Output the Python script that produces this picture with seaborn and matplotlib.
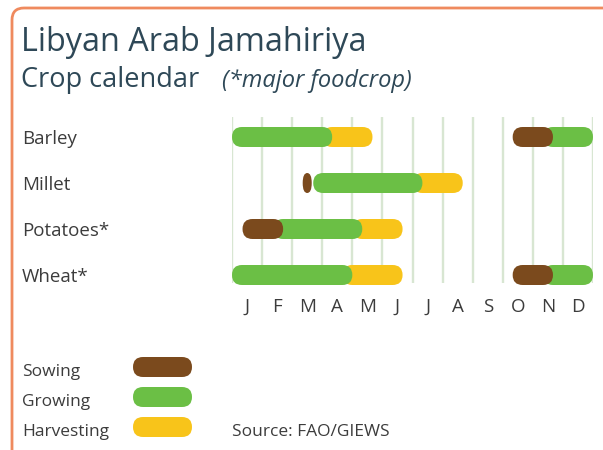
import numpy as np
import pandas as pd
import seaborn as sns
import matplotlib.pyplot as plt
from matplotlib.patches import FancyBboxPatch

# Data: crop periods in months counted from 1 January
crops = ['Barley', 'Millet', 'Potatoes*', 'Wheat*']
months = ['J', 'F', 'M', 'A', 'M', 'J', 'J', 'A', 'S', 'O', 'N', 'D']
stages = ['Sowing', 'Growing', 'Harvesting']

sowing = [('Barley', 9.33, 10.67), ('Millet', 2.35, 2.65),
          ('Potatoes*', 0.35, 1.7), ('Wheat*', 9.33, 10.67)]
growing = [('Barley', 0, 3.33), ('Barley', 10.67, 12), ('Millet', 2.7, 6.33),
           ('Potatoes*', 1.7, 4.33), ('Wheat*', 0, 4.0), ('Wheat*', 10.67, 12)]
harvesting = [('Barley', 3.33, 4.67), ('Millet', 6.33, 7.67),
              ('Potatoes*', 4.33, 5.67), ('Wheat*', 4.0, 5.67)]

colors = {'Sowing': '#7b4a1d', 'Growing': '#6bbf45', 'Harvesting': '#f8c41a'}
zorders = {'Sowing': 5, 'Growing': 4, 'Harvesting': 3}

rows = []
for stage, segs in zip(stages, [sowing, growing, harvesting]):
    for crop, start, end in segs:
        rows.append({'crop': crop, 'stage': stage, 'start': start, 'end': end})
df = pd.DataFrame(rows)

sns.set_style('white')
plt.rcParams['font.family'] = ['Open Sans', 'DejaVu Sans']

W, H = 603, 450
fig = plt.figure(figsize=(W / 100, H / 100), dpi=100)

# background layer in pixel units (frame, titles, legend)
bg = fig.add_axes([0, 0, 1, 1])
bg.set_xlim(0, W)
bg.set_ylim(H, 0)
bg.axis('off')
bg.add_patch(FancyBboxPatch((12, 8), 800, 800, boxstyle='round,pad=0,rounding_size=12',
                            fc='white', ec='#ef8a5e', lw=2.0))

title_c = '#2e4857'
bg.text(21, 51, 'Libyan Arab Jamahiriya', fontsize=23.3, color=title_c, va='baseline')
bg.text(21, 87, 'Crop calendar', fontsize=19.5, color=title_c, va='baseline')
bg.text(222, 87, '(*major foodcrop)', fontsize=17, style='italic', color=title_c, va='baseline')

# calendar axes
x0, x1, y0, y1 = 232, 593, 117, 283
row_px = 46
ax = fig.add_axes([x0 / W, 1 - y1 / H, (x1 - x0) / W, (y1 - y0) / H])
ax.set_xlim(0, 12)
ax.set_ylim(3 + 8 / row_px, -20 / row_px)
ax.patch.set_alpha(0)
sns.despine(ax=ax, left=True, bottom=True)

for m in range(13):
    ax.axvline(m, color='#d8e6d2', lw=1.7, zorder=1)

rx = 10 / ((x1 - x0) / 12)   # bar end radius in months
hh = 10 / row_px             # half bar height in rows
for _, s in df.iterrows():
    yi = crops.index(s['crop'])
    start, width = s['start'], s['end'] - s['start']
    joined = ((df['crop'] == s['crop']) & (df['end'] == s['start'])).any()
    if joined:
        start -= rx
        width += rx
    rs = min(rx, width / 2)
    ax.add_patch(FancyBboxPatch((start, yi - hh), width, 2 * hh,
                                boxstyle=f'round,pad=0,rounding_size={rs}',
                                mutation_aspect=hh / rs, fc=colors[s['stage']],
                                ec='none', zorder=zorders[s['stage']], clip_on=False))

ax.set_xticks(np.arange(12) + 0.5, months)
ax.set_yticks(range(len(crops)), crops)
for lbl in ax.get_yticklabels():
    lbl.set_ha('left')
ax.tick_params(axis='x', length=0, pad=11, labelsize=13.5, labelcolor='#3c3c3c')
ax.tick_params(axis='y', length=0, pad=(x0 - 22) * 0.72, labelsize=13.5, labelcolor='#3c3c3c')

# legend
for i, stage in enumerate(stages):
    yc = 367 + 30 * i
    bg.add_patch(FancyBboxPatch((133, yc - 10), 59, 20, boxstyle='round,pad=0,rounding_size=10',
                                fc=colors[stage], ec='none'))
    bg.text(22, yc + 9, stage, fontsize=12.5, color='#3c3c3c', va='baseline')
bg.text(232, 436, 'Source: FAO/GIEWS', fontsize=12.5, color='#3c3c3c', va='baseline')

fig.savefig('out.png', dpi=100)
